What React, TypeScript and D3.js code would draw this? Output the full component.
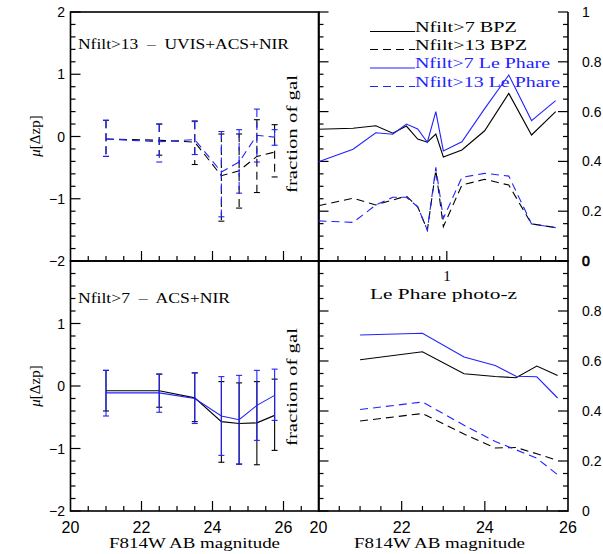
import React from "react";
import * as d3 from "d3";

const magBins = [21, 22.5, 23.5, 24.25, 24.75, 25.25, 25.75];

// top-left: Nfilt>13 mu[dzp]
const bpz13Mu = [-0.04, -0.06, -0.09, -0.63, -0.55, -0.32, -0.25];
const bpz13Hi = [0.26, 0.2, 0.25, 0.04, 0.04, 0.27, 0.19];
const bpz13Lo = [-0.32, -0.3, -0.45, -1.36, -1.15, -0.9, -0.65];
const lp13Mu = [-0.04, -0.085, -0.05, -0.57, -0.41, 0.02, -0.01];
const lp13Hi = [0.26, 0.2, 0.24, 0.08, 0.11, 0.44, 0.11];
const lp13Lo = [-0.32, -0.41, -0.29, -1.29, -0.91, -0.41, -0.14];

// bottom-left: Nfilt>7 mu[dzp]
const bpz7Mu = [-0.075, -0.075, -0.19, -0.57, -0.6, -0.59, -0.47];
const bpz7Hi = [0.25, 0.19, 0.21, 0.07, 0.05, 0.07, 0.11];
const bpz7Lo = [-0.4, -0.34, -0.57, -1.22, -1.25, -1.26, -1.03];
const lp7Mu = [-0.11, -0.11, -0.2, -0.48, -0.54, -0.31, -0.15];
const lp7Hi = [0.25, 0.19, 0.21, 0.15, 0.17, 0.25, 0.27];
const lp7Lo = [-0.48, -0.42, -0.6, -1.11, -1.25, -0.87, -0.55];

// top-right: fraction of gal vs photo-z
const zBins = [0.15, 0.25, 0.35, 0.45, 0.55, 0.65, 0.75, 0.85, 0.95, 1.25, 1.75, 2.5, 3.5, 5];
const fracBpz7 = [0.529, 0.533, 0.543, 0.513, 0.542, 0.49, 0.477, 0.51, 0.418, 0.446, 0.523, 0.673, 0.506, 0.6];
const fracLp7 = [0.399, 0.449, 0.515, 0.509, 0.55, 0.53, 0.477, 0.6, 0.442, 0.479, 0.612, 0.747, 0.564, 0.644];
const fracBpz13 = [0.222, 0.252, 0.225, 0.245, 0.261, 0.218, 0.124, 0.365, 0.138, 0.305, 0.328, 0.305, 0.149, 0.134];
const fracLp13 = [0.161, 0.155, 0.225, 0.256, 0.256, 0.218, 0.124, 0.376, 0.171, 0.336, 0.352, 0.341, 0.149, 0.134];

// bottom-right: fraction of gal vs magnitude
const magFracBpz7 = [0.605, 0.637, 0.549, 0.538, 0.533, 0.58, 0.542];
const magFracLp7 = [0.704, 0.711, 0.616, 0.582, 0.539, 0.537, 0.452];
const magFracBpz13 = [0.36, 0.39, 0.308, 0.252, 0.254, 0.229, 0.202];
const magFracLp13 = [0.406, 0.436, 0.343, 0.278, 0.245, 0.211, 0.145];

const legendLabels = ["Nfilt>7 BPZ", "Nfilt>13 BPZ", "Nfilt>7 Le Phare", "Nfilt>13 Le Phare"];
const muTicksTop = [2, 1, 0, -1, -2];
const muTicksBot = [1, 0, -1];
const fracTicksTop = [1, 0.8, 0.6, 0.4, 0.2];
const fracTicksBot = [0.8, 0.6, 0.4, 0.2, 0];
const magTickLabels = [20, 22, 24, 26];

const BLUE = "#2222ff";
const DASH = "8,5";
const SERIF = "'Liberation Serif', 'DejaVu Serif', serif";
const SANS = "'Liberation Sans', Arial, sans-serif";

const L0 = 70.5, L1 = 319, R0 = 318.5, R1 = 568;
const T0 = 12, MID = 261, B1 = 511;

const xL = d3.scaleLinear().domain([20, 27]).range([L0, L1]);
const xR = d3.scaleLinear().domain([20, 26]).range([R0, R1]);
const xZ = d3.scaleLog().domain([0.15, 6]).range([R0, R1]);
const yMuT = d3.scaleLinear().domain([-2, 2]).range([MID, T0]);
const yMuB = d3.scaleLinear().domain([-2, 2]).range([B1, MID]);
const yFT = d3.scaleLinear().domain([0, 1]).range([MID, T0]);
const yFB = d3.scaleLinear().domain([0, 1]).range([B1, MID]);

function range(a: number, b: number, s: number) {
  const out: number[] = [];
  for (let v = a; v <= b + 1e-9; v += s) out.push(Math.round(v * 1000) / 1000);
  return out;
}

function isMult(v: number, m: number) {
  return Math.abs(v / m - Math.round(v / m)) < 1e-6;
}

function Line({ xs, ys, x, y, color, dashed }: any) {
  const gen = d3.line<number>().x((_, i) => x(xs[i])).y((d) => y(d));
  return <path d={gen(ys) || ""} fill="none" stroke={color} strokeWidth={1.1} strokeDasharray={dashed ? DASH : undefined} />;
}

function ErrBars({ xs, hi, lo, x, y, color, dashed }: any) {
  return (
    <g stroke={color} strokeWidth={1.1} fill="none">
      {xs.map((xv: number, i: number) => {
        const px = x(xv);
        return (
          <g key={i}>
            <line x1={px} x2={px} y1={y(hi[i])} y2={y(lo[i])} strokeDasharray={dashed ? DASH : undefined} />
            <line x1={px - 3} x2={px + 3} y1={y(hi[i])} y2={y(hi[i])} />
            <line x1={px - 3} x2={px + 3} y1={y(lo[i])} y2={y(lo[i])} />
          </g>
        );
      })}
    </g>
  );
}

export default function App() {
  const muMinor = range(-2, 2, 0.2);
  const frMinor = range(0, 1, 0.05);
  const magMinorL = range(20.5, 26.5, 0.5);
  const magMinorR = range(20.5, 25.5, 0.5);
  const zTicks = [0.2, 0.3, 0.4, 0.5, 0.6, 0.7, 0.8, 0.9, 1, 2, 3, 4, 5];

  const tickStroke = { stroke: "#000", strokeWidth: 1.2 };

  return (
    <svg width={603} height={554} style={{ position: "absolute", left: 0, top: 0, background: "#fff" }}>
      <rect x={0} y={0} width={603} height={554} fill="#fff" />
      {/* left panels y ticks */}
      {[yMuT, yMuB].map((y, k) => (
        <g key={"ly" + k} {...tickStroke}>
          {muMinor.map((v) => {
            const major = isMult(v, 1);
            return <line key={v} x1={L0} x2={L0 + (major ? 10 : 5)} y1={y(v)} y2={y(v)} />;
          })}
        </g>
      ))}
      {/* left panels x ticks (bottom of each) */}
      {[MID, B1].map((yb, k) => (
        <g key={"lx" + k} {...tickStroke}>
          {magMinorL.map((v) => {
            const major = isMult(v, 2);
            return <line key={v} x1={xL(v)} x2={xL(v)} y1={yb} y2={yb - (major ? 10 : 5)} />;
          })}
        </g>
      ))}
      {/* right panels y ticks both sides */}
      {[yFT, yFB].map((y, k) => (
        <g key={"ry" + k} {...tickStroke}>
          {frMinor.map((v) => {
            const major = isMult(v, 0.2);
            const len = major ? 10 : 5;
            return (
              <g key={v}>
                <line x1={R0} x2={R0 + len} y1={y(v)} y2={y(v)} />
                <line x1={R1} x2={R1 - len} y1={y(v)} y2={y(v)} />
              </g>
            );
          })}
        </g>
      ))}
      {/* top-right log ticks */}
      <g {...tickStroke}>
        {zTicks.map((v) => (
          <line key={v} x1={xZ(v)} x2={xZ(v)} y1={MID} y2={MID - (v === 1 ? 10 : 5)} />
        ))}
      </g>
      {/* bottom-right x ticks */}
      <g {...tickStroke}>
        {magMinorR.map((v) => {
          const major = isMult(v, 2);
          return <line key={v} x1={xR(v)} x2={xR(v)} y1={B1} y2={B1 - (major ? 10 : 5)} />;
        })}
      </g>

      {/* frames */}
      <g stroke="#000" strokeWidth={1.6} fill="none">
        <rect x={L0} y={T0} width={L1 - L0} height={MID - T0} />
        <rect x={L0} y={MID} width={L1 - L0} height={B1 - MID} />
        <polyline points={`${R0},${T0} ${R0},${MID} ${R1},${MID} ${R1},${T0}`} />
        <rect x={R0} y={MID} width={R1 - R0} height={B1 - MID} />
      </g>

      {/* top-left data */}
      <Line xs={magBins} ys={bpz13Mu} x={xL} y={yMuT} color="#000" dashed />
      <ErrBars xs={magBins} hi={bpz13Hi} lo={bpz13Lo} x={xL} y={yMuT} color="#000" dashed />
      <Line xs={magBins} ys={lp13Mu} x={xL} y={yMuT} color={BLUE} dashed />
      <ErrBars xs={magBins} hi={lp13Hi} lo={lp13Lo} x={xL} y={yMuT} color={BLUE} dashed />

      {/* bottom-left data */}
      <Line xs={magBins} ys={bpz7Mu} x={xL} y={yMuB} color="#000" />
      <ErrBars xs={magBins} hi={bpz7Hi} lo={bpz7Lo} x={xL} y={yMuB} color="#000" />
      <Line xs={magBins} ys={lp7Mu} x={xL} y={yMuB} color={BLUE} />
      <ErrBars xs={magBins} hi={lp7Hi} lo={lp7Lo} x={xL} y={yMuB} color={BLUE} />

      {/* top-right data */}
      <Line xs={zBins} ys={fracBpz7} x={xZ} y={yFT} color="#000" />
      <Line xs={zBins} ys={fracBpz13} x={xZ} y={yFT} color="#000" dashed />
      <Line xs={zBins} ys={fracLp7} x={xZ} y={yFT} color={BLUE} />
      <Line xs={zBins} ys={fracLp13} x={xZ} y={yFT} color={BLUE} dashed />

      {/* bottom-right data */}
      <Line xs={magBins} ys={magFracBpz7} x={xR} y={yFB} color="#000" />
      <Line xs={magBins} ys={magFracBpz13} x={xR} y={yFB} color="#000" dashed />
      <Line xs={magBins} ys={magFracLp7} x={xR} y={yFB} color={BLUE} />
      <Line xs={magBins} ys={magFracLp13} x={xR} y={yFB} color={BLUE} dashed />

      {/* legend */}
      {legendLabels.map((lab, i) => {
        const yy = [31.5, 49.5, 68, 86.5][i];
        const col = i < 2 ? "#000" : BLUE;
        const dashed = i % 2 === 1;
        const widths = [102, 112, 135, 145];
        return (
          <g key={lab}>
            <line x1={370} x2={415} y1={yy} y2={yy} stroke={col} strokeWidth={1.1} strokeDasharray={dashed ? DASH : undefined} />
            <text x={415} y={yy} fill={col} fontFamily={SERIF} fontSize={15} textLength={widths[i]} lengthAdjust="spacingAndGlyphs">{lab}</text>
          </g>
        );
      })}

      {/* panel labels */}
      <text x={78} y={49} fontFamily={SERIF} fontSize={15} textLength={211} lengthAdjust="spacingAndGlyphs" style={{ whiteSpace: "pre" }}>{"Nfilt>13  –  UVIS+ACS+NIR"}</text>
      <text x={78} y={303} fontFamily={SERIF} fontSize={15} textLength={152} lengthAdjust="spacingAndGlyphs" style={{ whiteSpace: "pre" }}>{"Nfilt>7  –  ACS+NIR"}</text>
      <text x={447} y={281} fontFamily={SERIF} fontSize={15} textAnchor="middle">1</text>
      <text x={443.5} y={299} fontFamily={SERIF} fontSize={15} textAnchor="middle" textLength={147} lengthAdjust="spacingAndGlyphs">Le Phare photo-z</text>

      {/* fraction of gal labels */}
      {[134, 387].map((cy) => (
        <text key={cy} transform={`translate(297,${cy}) rotate(-90)`} fontFamily={SERIF} fontSize={15} textAnchor="middle" textLength={118} lengthAdjust="spacingAndGlyphs">fraction of gal</text>
      ))}
      {/* mu labels */}
      {[136, 386].map((cy) => (
        <text key={cy} transform={`translate(40,${cy}) rotate(-90)`} fontFamily={SERIF} fontSize={15} textAnchor="middle">
          <tspan fontStyle="italic">μ</tspan>[Δzp]
        </text>
      ))}

      {/* left tick labels */}
      <g fontFamily={SANS} fontSize={14} textAnchor="end">
        {muTicksTop.map((v) => (
          <text key={"t" + v} x={65} y={yMuT(v) + 5}>{v < 0 ? "−" + Math.abs(v) : String(v)}</text>
        ))}
        {muTicksBot.map((v) => (
          <text key={"b" + v} x={65} y={yMuB(v) + 5}>{v < 0 ? "−" + Math.abs(v) : String(v)}</text>
        ))}
        <text x={65} y={yMuB(-2) + 5}>−2</text>
      </g>
      {/* right tick labels */}
      <g fontFamily={SANS} fontSize={14} textAnchor="start">
        {fracTicksTop.map((v) => (
          <text key={"t" + v} x={582} y={yFT(v) + 5}>{String(v)}</text>
        ))}
        <text x={582} y={yFT(0) + 5} stroke="#000" strokeWidth={0.7}>0</text>
        {fracTicksBot.map((v) => (
          <text key={"b" + v} x={582} y={yFB(v) + 5}>{String(v)}</text>
        ))}
      </g>
      {/* x tick labels */}
      <g fontFamily={SANS} fontSize={16} textAnchor="middle">
        {magTickLabels.map((v) => (
          <text key={"l" + v} x={xL(v)} y={533}>{v}</text>
        ))}
        {magTickLabels.map((v) => (
          <text key={"r" + v} x={xR(v)} y={533}>{v}</text>
        ))}
      </g>
      {/* x axis titles */}
      <text x={194.5} y={548} fontFamily={SERIF} fontSize={15} textAnchor="middle" textLength={171} lengthAdjust="spacingAndGlyphs">F814W AB magnitude</text>
      <text x={439.5} y={548} fontFamily={SERIF} fontSize={15} textAnchor="middle" textLength={171} lengthAdjust="spacingAndGlyphs">F814W AB magnitude</text>
    </svg>
  );
}
